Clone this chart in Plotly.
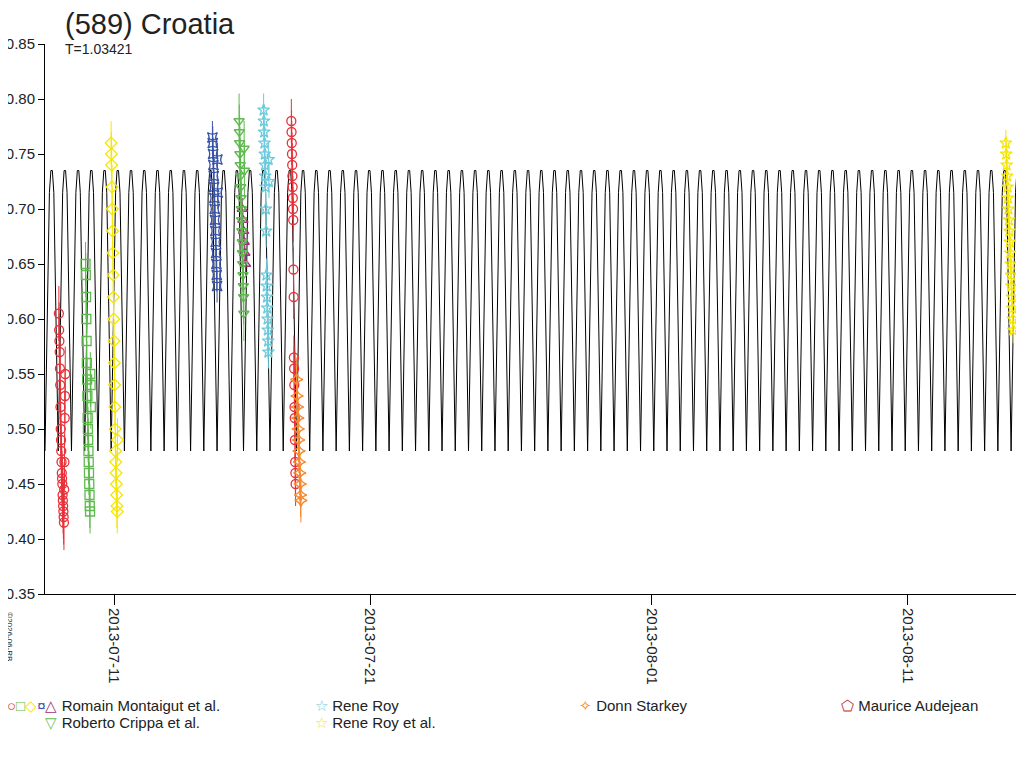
import pandas as pd
import plotly.graph_objects as go

# model lightcurve: one hump profile (mag), tiled over the plot range
period_days = 1.03421
hump_profile = [-0.480, -0.560, -0.650, -0.715, -0.735, -0.735, -0.715, -0.650, -0.560]
curve_start = "2013-07-08 07:00"
curve_end = "2013-08-15 14:00"

# observing sessions: (observer, symbol, colour, start, end, error, mags)
sessions = [
    ("Romain Montaigut et al.", "circle-open", "#e8323a", "2013-07-08 20:00", "2013-07-09 02:00", 0.025,
     [-0.605, -0.59, -0.58, -0.57, -0.555, -0.54, -0.52, -0.50, -0.49, -0.48, -0.47, -0.46, -0.455,
      -0.45, -0.44, -0.435, -0.43, -0.425, -0.42, -0.415, -0.445, -0.47, -0.51, -0.53, -0.55]),
    ("Romain Montaigut et al.", "square-open", "#5fba4f", "2013-07-09 21:00", "2013-07-10 02:00", 0.02,
     [-0.65, -0.64, -0.62, -0.60, -0.58, -0.56, -0.545, -0.53, -0.51, -0.50, -0.49, -0.48, -0.47,
      -0.46, -0.45, -0.44, -0.43, -0.425, -0.55, -0.54, -0.52]),
    ("Romain Montaigut et al.", "diamond-open", "#f5e600", "2013-07-10 21:00", "2013-07-11 03:00", 0.02,
     [-0.76, -0.75, -0.74, -0.72, -0.70, -0.68, -0.66, -0.64, -0.62, -0.60, -0.58, -0.56, -0.54,
      -0.52, -0.50, -0.48, -0.47, -0.46, -0.45, -0.44, -0.43, -0.425, -0.49]),
    ("Romain Montaigut et al.", "star-square-open", "#3852a6", "2013-07-14 20:00", "2013-07-15 01:00", 0.015,
     [-0.765, -0.76, -0.75, -0.74, -0.73, -0.72, -0.71, -0.70, -0.69, -0.68, -0.67, -0.66, -0.65,
      -0.64, -0.63, -0.745, -0.715]),
    ("Romain Montaigut et al.", "triangle-up-open", "#a0307a", "2013-07-16 00:00", "2013-07-16 03:00", 0.01,
     [-0.70, -0.69, -0.68, -0.67, -0.66, -0.65]),
    ("Roberto Crippa et al.", "triangle-down-open", "#5fba4f", "2013-07-15 21:00", "2013-07-16 02:00", 0.025,
     [-0.78, -0.77, -0.76, -0.75, -0.74, -0.73, -0.72, -0.71, -0.70, -0.69, -0.68, -0.67, -0.66,
      -0.65, -0.64, -0.63, -0.62, -0.605, -0.755, -0.735]),
    ("Rene Roy", "star-open", "#6ccbdc", "2013-07-16 20:00", "2013-07-17 01:00", 0.015,
     [-0.79, -0.78, -0.77, -0.76, -0.75, -0.74, -0.73, -0.72, -0.70, -0.68, -0.64, -0.63, -0.62,
      -0.61, -0.60, -0.59, -0.58, -0.57, -0.745, -0.725]),
    ("Romain Montaigut et al.", "circle-open", "#e8323a", "2013-07-17 22:00", "2013-07-18 02:00", 0.02,
     [-0.78, -0.77, -0.76, -0.75, -0.74, -0.73, -0.72, -0.71, -0.70, -0.69, -0.645, -0.62,
      -0.565, -0.555, -0.54, -0.52, -0.51, -0.49, -0.47, -0.46, -0.45]),
    ("Donn Starkey", "star-diamond-open", "#f58a30", "2013-07-18 03:00", "2013-07-18 07:00", 0.02,
     [-0.545, -0.53, -0.52, -0.51, -0.50, -0.49, -0.48, -0.47, -0.46, -0.45, -0.44, -0.435]),
    ("Rene Roy et al.", "star-open", "#f5e600", "2013-08-14 20:00", "2013-08-15 03:00", 0.012,
     [-0.76, -0.75, -0.74, -0.73, -0.72, -0.71, -0.70, -0.69, -0.68, -0.67, -0.66, -0.65, -0.64,
      -0.63, -0.62, -0.61, -0.60, -0.59]),
]

y_ticks = [-0.85, -0.80, -0.75, -0.70, -0.65, -0.60, -0.55, -0.50, -0.45, -0.40, -0.35]
x_ticks = ["2013-07-11", "2013-07-21", "2013-08-01", "2013-08-11"]

# legend rows: (x px, y px, html text)
legend_items = [
    (4, 704, "<span style='color:#e8323a'>○</span><span style='color:#5fba4f'>□</span>"
             "<span style='color:#f5e600'>◇</span><span style='color:#3852a6'>¤</span>"
             "<span style='color:#a0307a'>△</span> Romain Montaigut et al."),
    (4, 721, "<span style='color:white'>○□◇¤</span><span style='color:#5fba4f'>▽</span> Roberto Crippa et al."),
    (312, 704, "<span style='color:#6ccbdc'>☆</span> Rene Roy"),
    (312, 721, "<span style='color:#f5e600'>☆</span> Rene Roy et al."),
    (576, 704, "<span style='color:#f58a30'>✧</span> Donn Starkey"),
    (838, 704, "<span style='color:#c0303a'>⬠</span> Maurice Audejean"),
]

L, T, W, H = 37, 36, 980, 550  # plot area (page has ~7px offset)

fig = go.Figure()

# model curve
t0 = pd.Timestamp(curve_start)
n_humps = int((pd.Timestamp(curve_end) - t0) / pd.Timedelta(days=period_days / 2)) + 1
cx, cy = [], []
step = pd.Timedelta(days=period_days / 2) / len(hump_profile)
for h in range(n_humps):
    for i, v in enumerate(hump_profile):
        cx.append(t0 + step * (h * len(hump_profile) + i))
        cy.append(v)
fig.add_trace(go.Scatter(x=cx, y=cy, mode="lines", line=dict(color="black", width=1),
                         hoverinfo="skip", showlegend=False))

for name, sym, col, start, end, err, mags in sessions:
    times = pd.date_range(start, end, periods=len(mags))
    fig.add_trace(go.Scatter(
        x=times, y=mags, mode="markers", name=name,
        marker=dict(symbol=sym, color=col, size=9, line=dict(width=1.3, color=col)),
        error_y=dict(type="constant", value=err, color=col, thickness=1, width=0),
        showlegend=False))

fig.update_layout(
    width=1024, height=768,
    margin=dict(l=L, r=1024 - L - W, t=T, b=768 - T - H),
    plot_bgcolor="white", paper_bgcolor="white",
    font=dict(family="Liberation Sans, Arial", color="#222", size=14),
    xaxis=dict(range=[curve_start, curve_end], tickvals=x_ticks, ticktext=x_ticks,
               tickangle=90, showgrid=False, zeroline=False, showline=True,
               linecolor="black", ticks="outside", ticklen=10, tickcolor="black",
               tickfont=dict(size=15), automargin=False),
    yaxis=dict(range=[-0.35, -0.85], tickvals=y_ticks,
               ticktext=["-%.2f" % abs(v) for v in y_ticks],
               showgrid=False, zeroline=False, showline=True, linecolor="black",
               ticks="outside", ticklen=6, tickcolor="black", tickfont=dict(size=15),
               automargin=False),
)

fig.add_annotation(text="(589) Croatia", xref="paper", yref="paper", x=0.018, y=1.0,
                   xanchor="left", yanchor="bottom", yshift=2, showarrow=False,
                   font=dict(size=29, color="#222"))
fig.add_annotation(text="T=1.03421", xref="paper", yref="paper", x=0.018, y=1.0,
                   xanchor="left", yanchor="top", yshift=5, showarrow=False,
                   font=dict(size=14, color="#222"))
fig.add_annotation(text="©2026-06-RB", xref="paper", yref="paper", x=-0.036, y=-0.03,
                   xanchor="center", yanchor="top", textangle=90, showarrow=False,
                   font=dict(size=8, color="#222"))

for px, py, txt in legend_items:
    fig.add_annotation(text=txt, xref="paper", yref="paper",
                       x=(px - 7 - L) / W, y=(T + H - (py - 7)) / H,
                       xanchor="left", yanchor="middle", showarrow=False,
                       font=dict(size=15, color="#222"))

fig.write_html("out.html")
